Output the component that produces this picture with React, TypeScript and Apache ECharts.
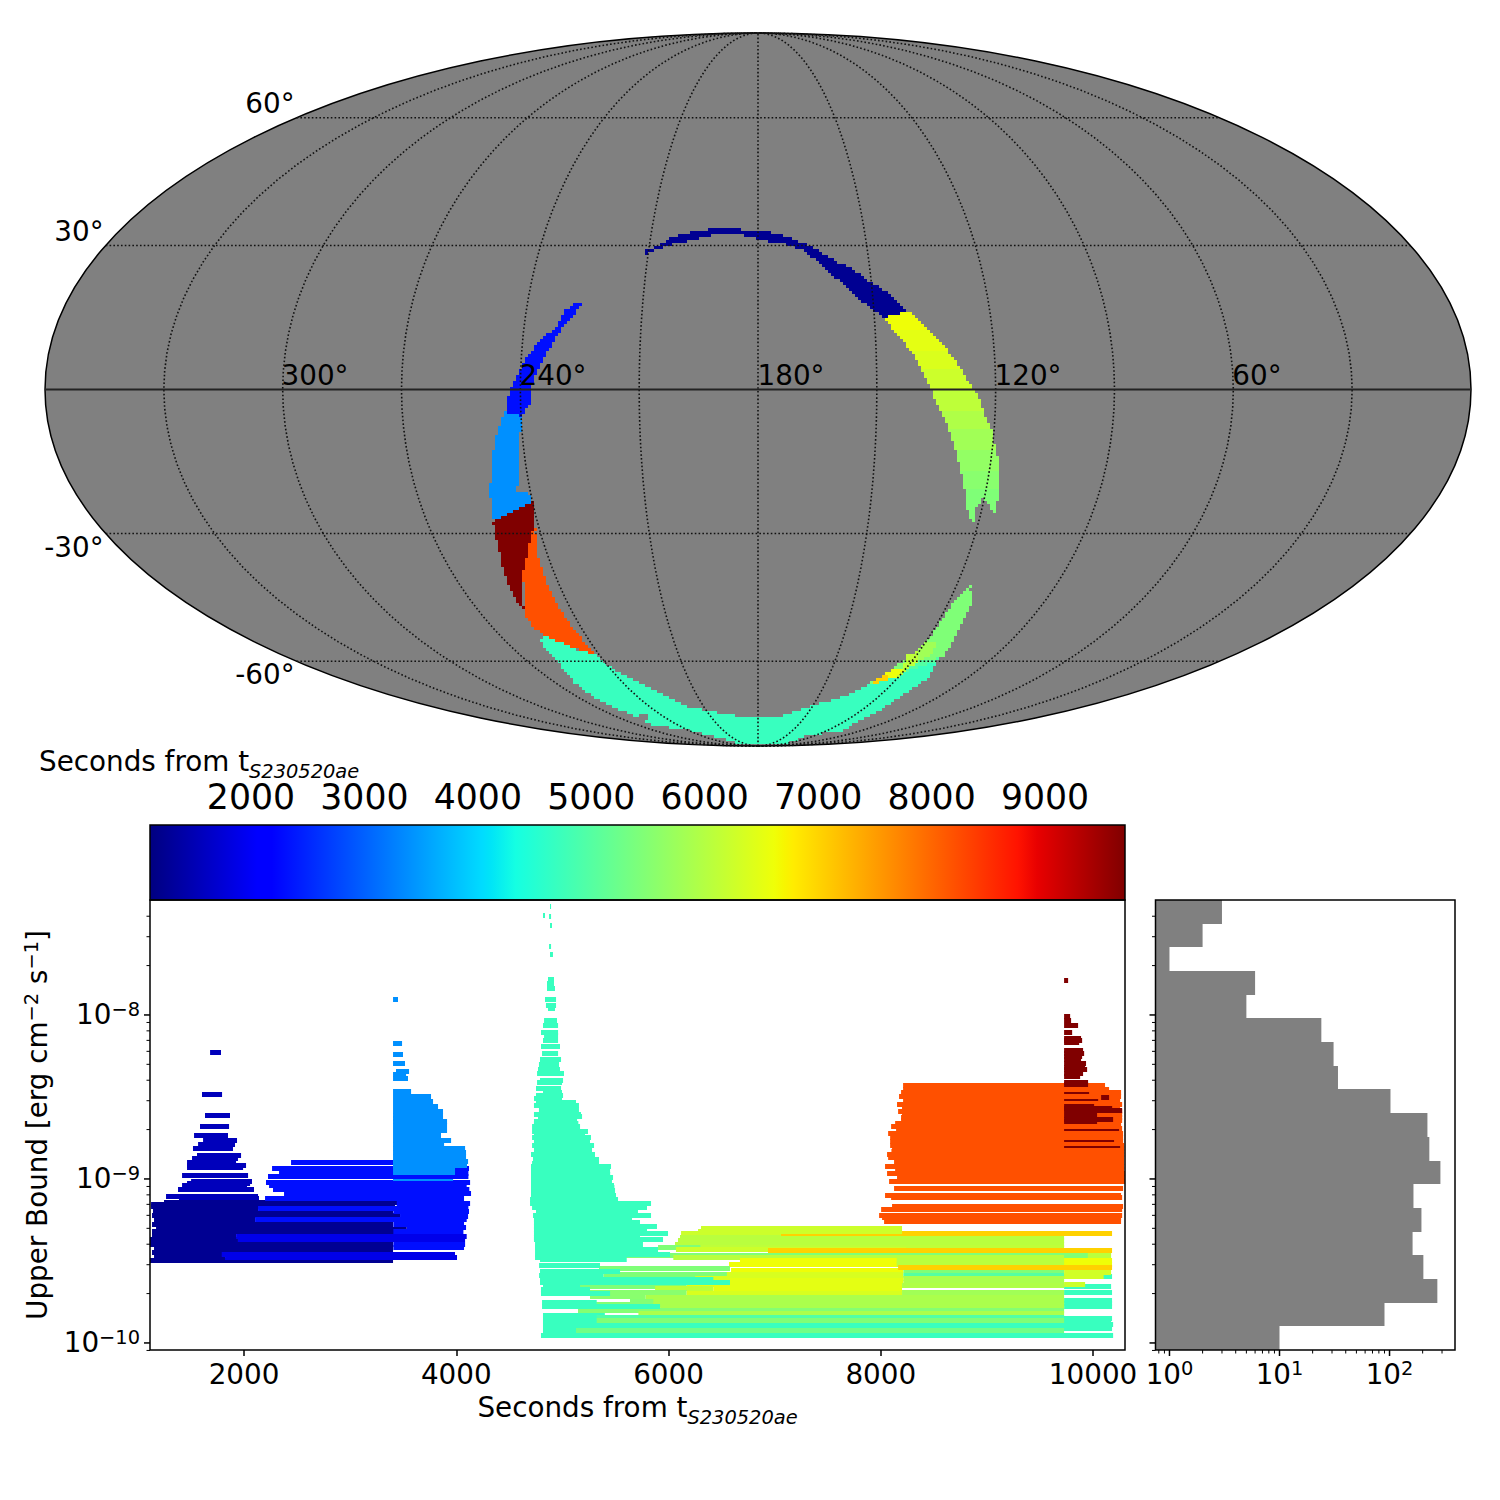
import React, { useEffect, useRef } from "react";
import * as echarts from "echarts";

// ---------- sky map: outlines in projected sky units, with the time of each patch ----------
const navyArc = [[-112,139.5],[-104.7,142],[-93,147.8],[-84.7,152.8],[-76.3,155.5],[-64.7,157.8],[-41.3,161.2],[-18,161.8],[-14,157.8],[8.7,157.8],[28.7,153.5],[45.3,146.2],[62,137.8],[78.7,127.8],[95.3,120.2],[112,107.8],[132,96.2],[148.7,79.5],[135.3,72.8],[123.7,72.2],[112,82.8],[98.7,91.2],[82,107.8],[62,126.2],[45.3,139.5],[25.3,146.2],[5.3,148.8],[-11.3,153.5],[-18,154.5],[-41.3,155.5],[-64.7,149.5],[-84.7,145.5],[-103,139.5],[-112,135.5]];
const yellowArc = [[150.3,78.8],[167,64.5],[183.7,46.2],[202,22.8],[213.7,2.8],[222,-10.5],[228.7,-30.5],[233.7,-40.5],[240.3,-70.5],[242,-103.8],[235.3,-123.8],[225.3,-107.2],[217,-120.5],[215.3,-133.2],[210.3,-127.2],[207,-100.5],[198.7,-63.8],[187,-30.5],[172,1.2],[155.3,34.5],[140.3,54.5],[125.3,71.2]];
const yellowArcBands = [[60,6620],[40,6500],[20,6400],[0,6250],[-20,6100],[-40,5950],[-60,5800],[-80,5650],[-100,5550],[-400,5450]];
const blueArc = [[-176.3,86.8],[-176.3,84.5],[-189.7,67.8],[-199.7,56.2],[-208,41.2],[-218,24.5],[-226.3,4.5],[-228,-13.8],[-236.3,-27.2],[-253,-22.2],[-248,-0.5],[-243,9.5],[-229.7,34.5],[-218,49.5],[-201.3,62.8],[-194,77.8],[-186.3,84.5]];
const skyBlueArc = [[-253,-22.2],[-236.3,-27.2],[-238,-47.2],[-239.7,-73.8],[-240.7,-103.8],[-231.3,-103.8],[-225.3,-110.5],[-228,-113.8],[-249.7,-123.8],[-263,-130.5],[-266.3,-127.2],[-268,-102.2],[-266.3,-70.5],[-263,-50.5],[-256.3,-30.5]];
const darkRedPatch = [[-226.3,-112.2],[-223,-123.8],[-224.7,-143.8],[-230.7,-163.8],[-234.7,-180.5],[-234.7,-219.8],[-241.3,-213.8],[-249.7,-193.8],[-256.3,-173.8],[-263,-143.8],[-265.3,-132.2],[-249.7,-123.8]];
const orangePatch = [[-224.7,-138.8],[-220.7,-147.2],[-221.3,-163.8],[-213,-188.8],[-201.3,-213.8],[-189.7,-232.2],[-178,-247.2],[-161.3,-265.5],[-178,-260.5],[-201.3,-254.5],[-214.7,-246.5],[-226.3,-235.5],[-234,-225.5],[-234.7,-180.5],[-230.7,-163.8]];
const cyanArc = [[-218,-252.2],[-213,-246.5],[-178,-261.2],[-161.3,-265.5],[-144.7,-280.5],[-104.7,-300.5],[-71.3,-317.2],[-38,-323.8],[-18,-326.5],[23.7,-326.5],[42,-320.5],[88.7,-305.5],[110.3,-295.5],[128.7,-288.8],[142,-283.8],[158.7,-277.2],[178.7,-270.5],[172,-287.2],[155.3,-298.8],[142,-307.2],[122,-320.5],[82,-342.2],[48.7,-345.5],[32,-353.2],[-18,-355.5],[-24.7,-352.2],[-71.3,-340.5],[-104.7,-335.5],[-138,-320.5],[-164.7,-307.2],[-184.7,-292.2],[-201.3,-270.5]];
const greenTail = [[212,-194.5],[213.7,-213.8],[202,-237.2],[195.3,-252.2],[185.3,-267.2],[177,-272.2],[142,-283.8],[110.3,-295.5],[113.7,-292.2],[125.3,-285.5],[135.3,-278.8],[148.7,-268.8],[162,-258.8],[178.7,-238.8],[190.3,-220.5],[200.3,-207.2]];
const tailLower = [[148.7,-280.5],[162,-270.5],[178.7,-268.8],[177,-272.2],[142,-283.8]];
const tailMiddle = [[158.7,-262.2],[168.7,-252.2],[178.7,-252.2],[175.3,-263.8],[162,-270.5]];
const tailLime = [[138.7,-287.2],[145.3,-278.8],[148.7,-265.5],[158.7,-262.2],[162,-270.5],[148.7,-280.5]];
const tailYellow = [[120.3,-289.8],[135.3,-278.8],[145.3,-278.8],[138.7,-287.2],[128.7,-290.5]];
const tailGold = [[110.3,-295.5],[122,-287.2],[128.7,-285.5],[128.7,-290.5]];
const cyanHole = [[-118,-326],[-111,-326],[-111,-330],[-118,-330]];

const skyPatches: any[] = [
  { outline: navyArc, t: 1250 },
  { outline: yellowArc, bands: yellowArcBands },
  { outline: blueArc, t: 2300 },
  { outline: skyBlueArc, t: 3400 },
  { outline: darkRedPatch, t: 9700 },
  { outline: orangePatch, t: 8200 },
  { outline: cyanArc, t: 4700 },
  { outline: cyanHole, t: null },
  { outline: greenTail, t: 5450 },
  { outline: tailLower, t: 5000 },
  { outline: tailMiddle, t: 5800 },
  { outline: tailLime, t: 6100 },
  { outline: tailYellow, t: 6600 },
  { outline: tailGold, t: 7030 },
];

const meridians = [-150,-120,-90,-60,-30,0,30,60,90,120,150];
const parallels = [-60,-30,30,60];
const latLabels = [["60°",270,103],["30°",79,231],["-30°",74,547],["-60°",265,674]];
const lonLabels = [["300°",315,375],["240°",553,375],["180°",791,375],["120°",1028,375],["60°",1257,375]];

// ---------- upper-limit rows: [start s, end s, log10 upper bound] ----------
const navyPeak = [[1680,1783,-8.226],[1604,1793,-8.488],[1632,1868,-8.616],[1585,1859,-8.683],[1529,1849,-8.738],[1614,1934,-8.763],[1567,1915,-8.787],[1519,1896,-8.817],[1557,1972,-8.86],[1510,1943,-8.878],[1463,1925,-8.899],[1463,2019,-8.921],[1463,1991,-8.933],[1416,2038,-8.976],[1501,2075,-9.013],[1463,2057,-9.025],[1416,2028,-9.037],[1378,2094,-9.067],[1265,2132,-9.104],[1387,2141,-9.118]];
const navyRows = [[1246,3451,-9.143],[1124,3400,-9.155],[1124,3423,-9.169],[1142,2132,-9.19],[1372,3404,-9.21],[1133,3470,-9.22],[1152,2104,-9.246],[1133,3404,-9.277],[1171,2339,-9.293],[1287,3533,-9.307],[1133,3527,-9.322],[1133,1925,-9.344],[1114,1943,-9.372],[1114,3404,-9.399],[1152,3404,-9.423],[1133,3404,-9.447],[1152,1821,-9.47],[1114,3404,-9.498]];
const blueRows = [[2443,3407,-8.897],[2264,4120,-8.939],[2330,4114,-8.966],[2226,4114,-8.987],[2207,4130,-9.022],[2236,4098,-9.042],[2273,4123,-9.063],[2377,4139,-9.09],[2198,4073,-9.12],[3439,4130,-9.149],[2132,4114,-9.179],[3407,4120,-9.2],[3470,4111,-9.226],[2104,4098,-9.25],[3407,4073,-9.275],[3533,4092,-9.297],[3407,4067,-9.322],[3407,4083,-9.397],[3407,4073,-9.417]];
const deepBlueRows = [[1925,4098,-9.348],[1943,4083,-9.372],[1790,3988,-9.46],[1821,4007,-9.478]];
const skyBlueRows = [[3404,3451,-7.903],[3404,3489,-8.171],[3404,3498,-8.244],[3404,3517,-8.299],[3432,3555,-8.342],[3404,3527,-8.366],[3404,3545,-8.389],[3404,3574,-8.468],[3404,3762,-8.5],[3404,3781,-8.529],[3404,3828,-8.559],[3404,3875,-8.586],[3404,3875,-8.614],[3404,3875,-8.63],[3404,3913,-8.647],[3404,3913,-8.671],[3404,3913,-8.704],[3404,3856,-8.732],[3404,3951,-8.765],[3404,3885,-8.787],[3404,4083,-8.813],[3404,4092,-8.838],[3404,4092,-8.864],[3404,4111,-8.895],[3404,4101,-8.919],[3404,3988,-8.945],[3404,3988,-8.96]];
const cyanLongRows = [[4817,10179,-9.85],[4817,10170,-9.87],[4817,10189,-9.89],[4817,10179,-9.91],[4798,10189,-9.952],[4817,5400,-9.83],[4817,5128,-9.927],[9727,10179,-9.592],[9727,10170,-9.653],[9727,10179,-9.695],[9727,10179,-9.744],[9727,10179,-9.76],[9727,10179,-9.779]];
const cyanRows = [[4883,4893,-7.34],[4817,4836,-7.395],[4874,4893,-7.401],[4883,4902,-7.455],[4874,4893,-7.584],[4883,4911,-7.634],[4864,4921,-7.781],[4855,4921,-7.811],[4855,4930,-7.836],[4836,4940,-7.907],[4845,4940,-7.943],[4864,4930,-7.962],[4827,4949,-8.031],[4817,4959,-8.067],[4798,4959,-8.106],[4827,4959,-8.128],[4817,4959,-8.153],[4798,4977,-8.193],[4808,4959,-8.234],[4789,4987,-8.271],[4779,4968,-8.305],[4770,4977,-8.33],[4761,5015,-8.356],[4789,5006,-8.397],[4761,4996,-8.413],[4751,4987,-8.449],[4817,4996,-8.474],[4751,5006,-8.494],[4732,4996,-8.512],[4751,5128,-8.531],[4732,5156,-8.555],[4779,5156,-8.579],[4732,5175,-8.604],[4770,5185,-8.622],[4732,5138,-8.647],[4732,5150,-8.664],[4714,5166,-8.681],[4714,5241,-8.71],[4732,5213,-8.732],[4714,5269,-8.75],[4732,5260,-8.775],[4714,5298,-8.799],[4732,5279,-8.827],[4704,5307,-8.852],[4723,5345,-8.88],[4714,5345,-8.905],[4704,5458,-8.925],[4704,5449,-8.949],[4704,5450,-8.97],[4704,5477,-8.99],[4704,5467,-9.017],[4704,5486,-9.037],[4704,5496,-9.071],[4704,5490,-9.055],[4704,5505,-9.1],[4695,5524,-9.124],[4695,5835,-9.151],[4714,5797,-9.173],[4751,5712,-9.193],[4723,5835,-9.224],[4732,5656,-9.246],[4732,5731,-9.267],[4732,5891,-9.287],[4732,5797,-9.311],[4732,5995,-9.334],[4732,5731,-9.355],[4732,5948,-9.372],[4742,5759,-9.399],[4742,5700,-9.416],[4742,5901,-9.433],[4742,6014,-9.458],[4742,5354,-9.476],[4789,5606,-9.494],[4780,5354,-9.525],[4789,5543,-9.566],[4780,5386,-9.586],[4789,6422,-9.616],[4789,6579,-9.63],[4817,5166,-9.647],[4798,5260,-9.677],[4798,5449,-9.697],[4808,5323,-9.752],[4808,5920,-9.778]];
const orangeRows = [[8210,10113,-8.433],[8210,10151,-8.454],[8191,10264,-8.474],[8172,10264,-8.498],[8210,10255,-8.52],[8153,10274,-8.543],[8200,10255,-8.569],[8163,10274,-8.59],[8200,10274,-8.61],[8191,10274,-8.625],[8191,10274,-8.641],[8135,10264,-8.661],[8097,10264,-8.681],[8144,10274,-8.695],[8069,10283,-8.72],[8088,10283,-8.746],[8088,10283,-8.773],[8088,10293,-8.793],[8106,10293,-8.815],[8100,10293,-8.83],[8059,10293,-8.848],[8069,10293,-8.872],[8125,10293,-8.897],[8040,10293,-8.925],[8135,10293,-8.941],[8059,10300,-8.964],[8153,10300,-8.99],[8078,10300,-9.017],[8125,10283,-9.061],[8040,10264,-9.098],[8097,10274,-9.116],[8106,10283,-9.169],[8003,10274,-9.189],[7984,10274,-9.22],[8012,10264,-9.236],[8031,10264,-9.257]];
const darkRedRows = [[9727,9765,-7.787],[9727,9784,-8.011],[9727,9793,-8.031],[9727,9859,-8.067],[9727,9803,-8.104],[9727,9887,-8.143],[9727,9897,-8.153],[9727,9869,-8.169],[9727,9906,-8.218],[9727,9916,-8.234],[9727,9897,-8.254],[9727,9887,-8.269],[9727,9934,-8.299],[9727,9925,-8.32],[9727,9944,-8.334],[9727,9906,-8.356],[9727,9878,-8.376],[9727,9953,-8.411],[9727,9953,-8.427],[10076,10151,-8.505],[9727,10010,-8.559],[9727,10180,-8.569],[9727,10274,-8.584],[9727,10038,-8.616],[9727,10189,-8.637],[9727,10038,-8.651]];
// rows read as hair-thin in the picture: [start, end, log10 bound, time]
const thinRows = [[9727,9963,-8.474,9700],[9727,10048,-8.521,9700],[9727,10245,-8.702,9700],[9727,10198,-8.769,9700],[9727,10255,-8.805,9700],[3404,3970,-9.004,3400],[7060,8200,-9.342,7030]];
// mixed-colour rows: [start, end, log10 bound, time]
const greenYellowRows = [[6306,8200,-9.301,6250],[6278,8200,-9.318,6250],[6118,8240,-9.335,6250],[6108,9727,-9.356,6050],[6089,9727,-9.376,6050],[6061,9727,-9.399,6050],[6070,9727,-9.418,6100],[5901,6300,-9.419,5450],[6070,8240,-9.433,6250],[6045,10170,-9.464,6050],[5354,9950,-9.464,5450],[6045,9727,-9.482,6050],[6673,10179,-9.496,6620],[6570,10179,-9.52,6620],[8150,9727,-9.496,6050],[8150,9727,-9.52,6050],[5345,6579,-9.545,5450],[6589,8213,-9.56,6620],[8213,9727,-9.56,5450],[9727,10170,-9.57,6300],[5386,6580,-9.585,5450],[6550,8213,-9.585,6375],[8213,9727,-9.59,5000],[9727,10100,-9.596,6300],[5500,6250,-9.61,5450],[6250,8213,-9.606,6375],[8213,9727,-9.61,5900],[6579,8213,-9.622,6500],[8213,9727,-9.63,5900],[6171,8200,-9.645,6500],[5156,6171,-9.655,5450],[5873,6422,-9.67,6100],[6422,8200,-9.67,6500],[8200,9727,-9.65,5950],[9727,9925,-9.641,6250],[5260,6171,-9.69,5550],[6171,8200,-9.7,6375],[8200,9727,-9.695,5800],[5260,5785,-9.715,5550],[5785,9727,-9.722,5900],[5317,5860,-9.765,5500],[5637,5900,-9.748,5500],[5857,9727,-9.745,5900],[5857,9727,-9.765,5900],[5920,9727,-9.785,5900],[5147,9727,-9.805,5500],[5716,9727,-9.822,5900],[5323,9727,-9.844,4950],[5323,9727,-9.862,5450],[5128,9727,-9.925,5300]];
const goldRows = [[8200,10179,-9.334,7030],[6937,10179,-9.439,7030],[8163,10179,-9.537,7030]];

// ---------- histogram of the bounds ----------
const histEdges = [-7.299,-7.443,-7.588,-7.732,-7.877,-8.021,-8.165,-8.31,-8.454,-8.599,-8.743,-8.888,-9.032,-9.176,-9.321,-9.465,-9.61,-9.754,-9.899,-10.043];
const histCounts = [3,2,1,6,5,24,31,34,102,221,230,290,165,195,162,203,272,90,10];

// ---------- axes ----------
const colorbarTicks = [2000,3000,4000,5000,6000,7000,8000,9000];
const timeTicks = [2000,4000,6000,8000,10000];
const boundMajor = [1e-8,1e-9,1e-10];
const boundMinor = [4e-8,3e-8,2e-8,9e-9,8e-9,7e-9,6e-9,5e-9,4e-9,3e-9,2e-9,9e-10,8e-10,7e-10,6e-10,5e-10,4e-10,3e-10,2e-10,9e-11];
const countMajor = [1,10,100];
const countMinor = [0.8,0.9,2,3,4,5,6,7,8,9,20,30,40,50,60,70,80,90,200,300];

const T_MIN = 1110, T_MAX = 9705;
const MAIN_X = [1114, 10301];
const BOUND_RANGE = [Math.pow(10,-10.043), Math.pow(10,-7.299)];
const COUNT_RANGE = [Math.pow(10,-0.127), Math.pow(10,2.595)];
const FONT = "DejaVu Sans";
const FS = 27.8, FS_SMALL = 19.4;

const JET: any = {
  r: [[0,0],[0.35,0],[0.66,1],[0.89,1],[1,0.5]],
  g: [[0,0],[0.125,0],[0.375,1],[0.64,1],[0.91,0],[1,0]],
  b: [[0,0.5],[0.11,1],[0.34,1],[0.65,0],[1,0]],
};
function chan(s: number[][], x: number) {
  for (let i = 1; i < s.length; i++) {
    if (x <= s[i][0]) return s[i-1][1] + (s[i][1]-s[i-1][1])*(x-s[i-1][0])/(s[i][0]-s[i-1][0]);
  }
  return s[s.length-1][1];
}
function jetAt(x: number) {
  const c = (s: number[][]) => Math.round(255*chan(s, Math.max(0, Math.min(1, x))));
  return `rgb(${c(JET.r)},${c(JET.g)},${c(JET.b)})`;
}
const jet = (t: number) => jetAt((t-T_MIN)/(T_MAX-T_MIN));

const withT = (rows: number[][], t: number) => rows.map((r) => [r[0], r[1], r[2], t]);
const allRows = [
  ...withT(navyPeak, 1550), ...withT(navyRows, 1250),
  ...withT(blueRows, 2300), ...withT(deepBlueRows, 1900), ...withT(skyBlueRows, 3400),
  ...withT(orangeRows, 8200), ...withT(cyanLongRows, 4700),
  ...greenYellowRows, ...withT(cyanRows, 4700), ...goldRows, ...withT(darkRedRows, 9700),
];

const sup10 = (v: number) => {
  const e = Math.log10(v);
  if (Math.abs(e - Math.round(e)) > 1e-6) return "";
  const n = Math.round(e);
  return `{b|10}{e|${n < 0 ? "\u2212" + -n : n}}`;
};
const powRich = {
  b: { fontFamily: FONT, fontSize: FS, lineHeight: 30, verticalAlign: "middle", color: "#000" },
  e: { fontFamily: FONT, fontSize: FS_SMALL, lineHeight: 14, verticalAlign: "top", color: "#000" },
};

function theta(latDeg: number) {
  const phi = latDeg*Math.PI/180;
  let th = phi;
  for (let i = 0; i < 30; i++) th -= (2*th + Math.sin(2*th) - Math.PI*Math.sin(phi)) / (2 + 2*Math.cos(2*th));
  return th;
}
const RX = 713, RY = 356.5;

function patchItem(params: any, api: any) {
  const patch = skyPatches[params.dataIndex];
  const pts = patch.outline.map((p: number[]) => api.coord(p));
  const y0 = api.coord([0,0])[1];
  const ys = pts.map((p: number[]) => p[1]);
  const cell = 3;
  const children: any[] = [];
  for (let y = Math.floor(Math.min(...ys)/cell)*cell; y < Math.max(...ys); y += cell) {
    const scan = y + cell/2;
    const xs: number[] = [];
    pts.forEach((a: number[], i: number) => {
      const b = pts[(i+1)%pts.length];
      if ((a[1] <= scan) !== (b[1] <= scan)) xs.push(a[0] + (scan-a[1])*(b[0]-a[0])/(b[1]-a[1]));
    });
    xs.sort((a, b) => a-b);
    let t = patch.t;
    if (patch.bands) t = patch.bands.find((b: number[]) => y0 - scan >= b[0])[1];
    const fill = t === null ? "#808080" : jet(t);
    for (let k = 0; k + 1 < xs.length; k += 2) {
      const x0 = Math.round(xs[k]/cell)*cell;
      let x1 = Math.round(xs[k+1]/cell)*cell;
      if (x1 <= x0) x1 = x0 + cell;
      children.push({ type: "rect", shape: { x: x0, y, width: x1-x0, height: cell }, style: { fill } });
    }
  }
  return { type: "group", children };
}

function tickSeries(values: number[], xi: number, yi: number, dir: "left"|"down", edge: number, len: number, lw: number) {
  return {
    type: "custom", xAxisIndex: xi, yAxisIndex: yi, silent: true, z: 20,
    data: values.map((v) => [v]),
    renderItem: (params: any, api: any) => {
      const v = values[params.dataIndex];
      if (dir === "left") {
        const p = api.coord([edge, v]);
        return { type: "line", shape: { x1: p[0]-len, y1: p[1], x2: p[0], y2: p[1] }, style: { stroke: "#000", lineWidth: lw } };
      }
      const p = api.coord([v, edge]);
      return { type: "line", shape: { x1: p[0], y1: p[1], x2: p[0], y2: p[1]+len }, style: { stroke: "#000", lineWidth: lw } };
    },
  };
}

const frame = (x: number, y: number, width: number, height: number) => ({
  type: "rect", z: 100, silent: true, shape: { x, y, width, height }, style: { fill: "none", stroke: "#000", lineWidth: 1.5 },
});
const titleRich = {
  a: { fontFamily: FONT, fontSize: FS, lineHeight: 34, verticalAlign: "top", color: "#000" },
  s: { fontFamily: FONT, fontSize: FS_SMALL, fontStyle: "italic", lineHeight: 34, verticalAlign: "bottom", color: "#000", padding: [3,0,0,0] },
};
const mapText = (row: any[]) => ({
  type: "text", z: 90, silent: true,
  style: { text: row[0], x: row[1], y: row[2], align: "center", verticalAlign: "middle", fontFamily: FONT, fontSize: FS, fill: "#000" },
});

function buildOption(): any {
  const stops = [0,0.11,0.125,0.34,0.35,0.375,0.64,0.65,0.66,0.89,0.91,1].map((o) => ({ offset: o, color: jetAt(o) }));
  const barGrad = new echarts.graphic.LinearGradient(0,0,1,0,stops);
  const dotted = { stroke: "#111", lineWidth: 1.6, lineDash: [1.6,2.2] };
  return {
    animation: false,
    backgroundColor: "#fff",
    grid: [
      { left: 45, top: 33, width: 1426, height: 713 },
      { left: 150, top: 825, width: 975, height: 75 },
      { left: 150, top: 900, width: 975, height: 450 },
      { left: 1155.5, top: 900, width: 299.5, height: 450 },
    ],
    xAxis: [
      { gridIndex: 0, type: "value", min: -RX, max: RX, show: false },
      { gridIndex: 1, type: "value", position: "top", min: T_MIN, max: T_MAX, splitLine: { show: false }, axisLine: { show: false },
        axisTick: { customValues: colorbarTicks, length: 6, lineStyle: { color: "#000", width: 1.2 } },
        axisLabel: { customValues: colorbarTicks, fontFamily: FONT, fontSize: 34.7, lineHeight: 28, color: "#000", margin: 14, formatter: (v: number) => String(v) } },
      { gridIndex: 2, type: "value", min: MAIN_X[0], max: MAIN_X[1], splitLine: { show: false }, axisLine: { show: false },
        axisTick: { customValues: timeTicks, length: 6, lineStyle: { color: "#000", width: 1.5 } },
        axisLabel: { customValues: timeTicks, fontFamily: FONT, fontSize: FS, color: "#000", margin: 10, formatter: (v: number) => String(v) },
        name: "{a|Seconds from t}{s|S230520ae}", nameLocation: "middle", nameGap: 43, nameTextStyle: { rich: titleRich } },
      { gridIndex: 3, type: "log", min: COUNT_RANGE[0], max: COUNT_RANGE[1], splitLine: { show: false }, axisLine: { show: false }, axisTick: { show: false },
        axisLabel: { formatter: sup10, rich: powRich, margin: 9, showMinLabel: false, showMaxLabel: false, hideOverlap: false } },
    ],
    yAxis: [
      { gridIndex: 0, type: "value", min: -RY, max: RY, show: false },
      { gridIndex: 1, type: "value", min: 0, max: 1, show: false },
      { gridIndex: 2, type: "log", min: BOUND_RANGE[0], max: BOUND_RANGE[1], splitLine: { show: false }, axisLine: { show: false }, axisTick: { show: false },
        axisLabel: { formatter: sup10, rich: powRich, margin: 10, showMinLabel: false, showMaxLabel: false },
        name: "Upper Bound [erg cm{u|\u22122} s{u|\u22121}]", nameLocation: "middle", nameGap: 98,
        nameTextStyle: { fontFamily: FONT, fontSize: FS, color: "#000", rich: { u: { fontFamily: FONT, fontSize: FS_SMALL, color: "#000", verticalAlign: "top", lineHeight: 30 } } } },
      { gridIndex: 3, type: "log", min: BOUND_RANGE[0], max: BOUND_RANGE[1], splitLine: { show: false }, axisLine: { show: false }, axisTick: { show: false }, axisLabel: { show: false } },
    ],
    series: [
      { type: "custom", xAxisIndex: 0, yAxisIndex: 0, silent: true, z: 1, data: [[0,0]],
        renderItem: (_: any, api: any) => {
          const c = api.coord([0,0]);
          return { type: "ellipse", shape: { cx: c[0], cy: c[1], rx: RX, ry: RY }, style: { fill: "#808080", stroke: "#000", lineWidth: 1.5 } };
        } },
      { type: "custom", xAxisIndex: 0, yAxisIndex: 0, silent: true, z: 2, data: skyPatches.map((_, i) => [i, 0]), renderItem: patchItem },
      { type: "custom", xAxisIndex: 0, yAxisIndex: 0, silent: true, z: 3, data: meridians.map((m) => [m, 0]),
        renderItem: (params: any, api: any) => {
          const lon = meridians[params.dataIndex];
          const pts: number[][] = [];
          for (let i = 0; i <= 60; i++) {
            const th = -Math.PI/2 + Math.PI*i/60;
            pts.push(api.coord([RX*(lon/180)*Math.cos(th), RY*Math.sin(th)]));
          }
          return { type: "polyline", shape: { points: pts }, style: { fill: "none", ...dotted } };
        } },
      { type: "custom", xAxisIndex: 0, yAxisIndex: 0, silent: true, z: 3, data: parallels.map((m) => [0, m]),
        renderItem: (params: any, api: any) => {
          const th = theta(parallels[params.dataIndex]);
          const a = api.coord([-RX*Math.cos(th), RY*Math.sin(th)]);
          const b = api.coord([RX*Math.cos(th), RY*Math.sin(th)]);
          return { type: "line", shape: { x1: a[0], y1: a[1], x2: b[0], y2: b[1] }, style: dotted };
        } },
      { type: "custom", xAxisIndex: 0, yAxisIndex: 0, silent: true, z: 3, data: [[0,0]],
        renderItem: (_: any, api: any) => {
          const a = api.coord([-RX,0]); const b = api.coord([RX,0]);
          return { type: "line", shape: { x1: a[0], y1: a[1], x2: b[0], y2: b[1] }, style: { stroke: "#222", lineWidth: 2 } };
        } },
      { type: "custom", xAxisIndex: 1, yAxisIndex: 1, silent: true, data: [[T_MIN, T_MAX]], encode: { x: [0,1] },
        renderItem: (_: any, api: any) => {
          const a = api.coord([T_MIN, 1]); const b = api.coord([T_MAX, 0]);
          return { type: "rect", shape: { x: a[0], y: a[1], width: b[0]-a[0], height: b[1]-a[1] }, style: { fill: barGrad } };
        } },
      { type: "custom", xAxisIndex: 2, yAxisIndex: 2, silent: true, z: 5, clip: true,
        data: allRows.map((r) => [r[0], r[1], Math.pow(10, r[2]), r[3]]), encode: { x: [0,1], y: 2 },
        renderItem: (_: any, api: any) => {
          const a = api.coord([api.value(0), api.value(2)]); const b = api.coord([api.value(1), api.value(2)]);
          return { type: "rect", shape: { x: a[0], y: Math.round(a[1]-2.5), width: b[0]-a[0], height: 5 }, style: { fill: jet(api.value(3)) } };
        } },
      { type: "custom", xAxisIndex: 2, yAxisIndex: 2, silent: true, z: 6, clip: true,
        data: thinRows.map((r) => [r[0], r[1], Math.pow(10, r[2]), r[3]]), encode: { x: [0,1], y: 2 },
        renderItem: (_: any, api: any) => {
          const a = api.coord([api.value(0), api.value(2)]); const b = api.coord([api.value(1), api.value(2)]);
          return { type: "rect", shape: { x: a[0], y: Math.round(a[1]-1), width: b[0]-a[0], height: 2 }, style: { fill: jet(api.value(3)) } };
        } },
      tickSeries(boundMajor, 2, 2, "left", MAIN_X[0], 6, 1.5),
      tickSeries(boundMinor, 2, 2, "left", MAIN_X[0], 3.5, 1),
      { type: "custom", xAxisIndex: 3, yAxisIndex: 3, silent: true, z: 5,
        data: histCounts.map((c, i) => [c, Math.pow(10, histEdges[i]), Math.pow(10, histEdges[i+1])]), encode: { x: 0, y: [1,2] },
        renderItem: (_: any, api: any) => {
          const a = api.coord([COUNT_RANGE[0], api.value(1)]); const b = api.coord([api.value(0), api.value(2)]);
          const top = Math.round(a[1]), bot = Math.round(b[1]);
          return { type: "rect", shape: { x: a[0], y: top, width: b[0]-a[0], height: bot-top }, style: { fill: "#808080" } };
        } },
      tickSeries(boundMajor, 3, 3, "left", COUNT_RANGE[0], 6, 1.5),
      tickSeries(boundMinor, 3, 3, "left", COUNT_RANGE[0], 3.5, 1),
      tickSeries(countMajor, 3, 3, "down", BOUND_RANGE[0], 6, 1.5),
      tickSeries(countMinor, 3, 3, "down", BOUND_RANGE[0], 3.5, 1),
    ],
    graphic: [
      ...latLabels.map(mapText), ...lonLabels.map(mapText),
      frame(150, 825, 975, 75), frame(150, 900, 975, 450), frame(1155.5, 900, 299.5, 450),
      { type: "text", z: 90, silent: true, style: { text: "{a|Seconds from t}{s|S230520ae}", x: 39, y: 764, verticalAlign: "middle", rich: titleRich } },
    ],
  };
}

export default function App() {
  const ref = useRef<HTMLDivElement>(null);
  useEffect(() => {
    const chart = echarts.init(ref.current as HTMLDivElement, undefined, { renderer: "svg" });
    chart.setOption(buildOption());
    return () => chart.dispose();
  }, []);
  return <div ref={ref} style={{ position: "absolute", left: 0, top: 0, width: 1500, height: 1500 }} />;
}
